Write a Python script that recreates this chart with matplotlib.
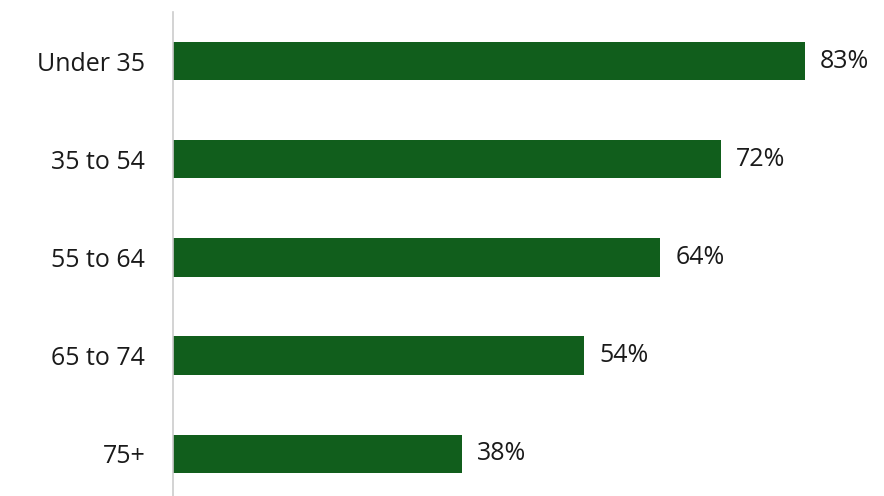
import matplotlib
matplotlib.use("Agg")
import matplotlib.pyplot as plt

categories = ["Under 35", "35 to 54", "55 to 64", "65 to 74", "75+"]
values = [83, 72, 64, 54, 38]
labels = ["83%", "72%", "64%", "54%", "38%"]

plt.rcParams['font.family'] = ['Open Sans', 'DejaVu Sans']
fig = plt.figure(figsize=(8.84, 4.96), dpi=100)
ax = fig.add_axes([173/884, 0, 711/884, 484/496])
y = list(range(len(categories)))
ax.barh(y, values, height=0.39, color="#115e1c")
for yi, v, l in zip(y, values, labels):
    ax.text(v + 2, yi, l, va="center", ha="left", fontsize=18, color="#1a1a1a")
ax.set_xlim(0, 711/7.61)
ax.set_ylim(4.43, -0.5)
ax.set_yticks(y)
ax.set_yticklabels(categories, fontsize=18, color="#1a1a1a")
ax.tick_params(axis="y", length=0, pad=20)
ax.set_xticks([])
for s in ["top", "right", "bottom"]:
    ax.spines[s].set_visible(False)
ax.spines["left"].set_color("#cccccc")
ax.spines["left"].set_linewidth(1.2)
fig.savefig("out.png", dpi=100)
